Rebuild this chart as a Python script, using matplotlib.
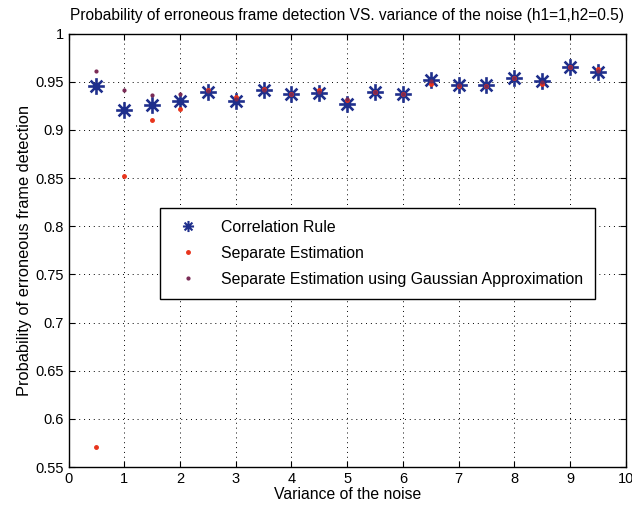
import matplotlib
matplotlib.use('Agg')
import matplotlib.pyplot as plt
from matplotlib.path import Path
import numpy as np

plt.rcParams['font.family'] = ['Liberation Sans', 'DejaVu Sans']

variance = [0.5, 1, 1.5, 2, 2.5, 3, 3.5, 4, 4.5, 5, 5.5, 6, 6.5, 7, 7.5, 8, 8.5, 9, 9.5]
corr_rule = [0.946, 0.9205, 0.926, 0.930, 0.9396, 0.9305, 0.942, 0.937, 0.9386, 0.9268,
             0.939, 0.937, 0.952, 0.947, 0.947, 0.9535, 0.9504, 0.9656, 0.9604]
sep_est = [0.571, 0.852, 0.910, 0.922, 0.942, 0.934, 0.943, 0.937, 0.941, 0.931,
           0.939, 0.937, 0.948, 0.946, 0.946, 0.954, 0.948, 0.965, 0.963]
sep_gauss = [0.961, 0.942, 0.936, 0.937, 0.940, 0.932, 0.942, 0.937, 0.939, 0.932,
             0.939, 0.937, 0.951, 0.947, 0.946, 0.954, 0.950, 0.965, 0.961]

# matlab style asterisk marker (4 crossing strokes)
verts = []
codes = []
for a in np.deg2rad([0, 45, 90, 135]):
    verts += [(-np.cos(a), -np.sin(a)), (np.cos(a), np.sin(a))]
    codes += [Path.MOVETO, Path.LINETO]
asterisk = Path(verts, codes)

fig = plt.figure(figsize=(6.32, 5.08), dpi=100)
ax = fig.add_axes([0.1085, 0.0807, 0.8815, 0.853])

ax.plot(variance, corr_rule, linestyle='none', marker=asterisk, color='#1f2f8c',
        markersize=12, markeredgewidth=1.9, label='Correlation Rule')
ax.plot(variance, sep_est, '.', color='#e8341c', markersize=5, label='Separate Estimation')
ax.plot(variance, sep_gauss, '.', color='#7a2a55', markersize=4,
        label='Separate Estimation using Gaussian Approximation')

ax.set_xlim(0, 10)
ax.set_ylim(0.55, 1)
ax.set_xticks(range(0, 11))
ax.set_yticks([0.55, 0.6, 0.65, 0.7, 0.75, 0.8, 0.85, 0.9, 0.95, 1])
ax.set_yticklabels(['0.55', '0.6', '0.65', '0.7', '0.75', '0.8', '0.85', '0.9', '0.95', '1'])
ax.tick_params(direction='in', top=True, right=True, labelsize=10.5, length=4)
ax.grid(True, linestyle=(0, (1, 4)), color='black', linewidth=0.7)
for s in ax.spines.values():
    s.set_linewidth(1.0)

ax.set_title('Probability of erroneous frame detection VS. variance of the noise (h1=1,h2=0.5)',
             fontsize=11.2, pad=10)
ax.set_xlabel('Variance of the noise', fontsize=11.3, labelpad=1)
ax.set_ylabel('Probability of erroneous frame detection', fontsize=11.8, labelpad=2)

leg = ax.legend(loc='upper left', bbox_to_anchor=(0.164, 0.598), fontsize=11.4,
                fancybox=False, edgecolor='black', framealpha=1, borderpad=0.75,
                labelspacing=0.7, handletextpad=1.1, handlelength=2.0, borderaxespad=0)
leg.get_frame().set_linewidth(1.0)
leg.legend_handles[0].set_markersize(8)
leg.legend_handles[0].set_markeredgewidth(1.5)

fig.savefig('out.png', dpi=100)
